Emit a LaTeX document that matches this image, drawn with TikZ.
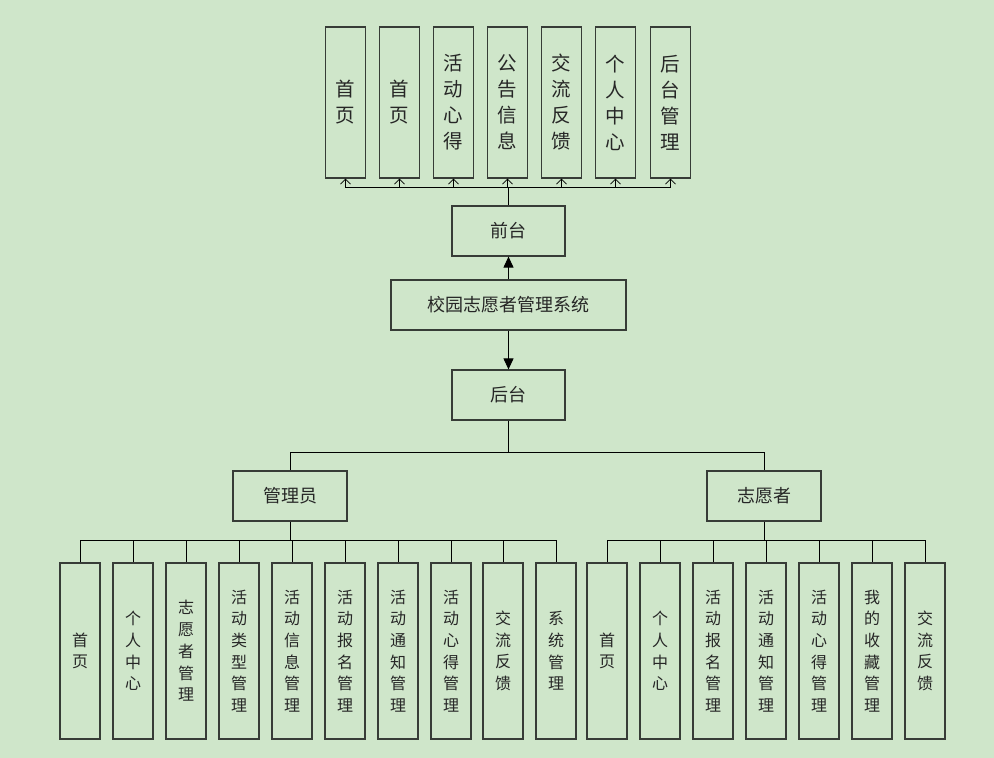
\documentclass[tikz,border=0pt]{standalone}
\usepackage{fontspec}
\newfontfamily\cjk{Noto Sans CJK SC}
\usetikzlibrary{arrows.meta}
\definecolor{bgc}{RGB}{207,230,202}
\definecolor{bdc}{RGB}{55,60,55}
\tikzset{
  x=1pt, y=-1pt,
  box/.style={draw=bdc, line width=1.2pt, inner sep=0pt, align=center, text=black!85},
  topbox/.style={box, minimum width=40pt, minimum height=151pt, font=\cjk\fontsize{19.5}{26}\selectfont},
  botbox/.style={box, minimum width=40pt, minimum height=176pt, font=\cjk\fontsize{16}{21.7}\selectfont},
  midbox/.style={box, minimum width=113pt, minimum height=50pt, font=\cjk\fontsize{18}{22}\selectfont},
  conn/.style={draw=black, line width=1pt},
  openarr/.style={conn, -{Straight Barb[length=5pt,width=10pt,line width=0.8pt]}},
  filarr/.style={conn, -{Triangle[length=11pt,width=10pt]}}
}
\begin{document}
\begin{tikzpicture}
\fill[bgc] (0,0) rectangle (994,758);
\useasboundingbox (0,0) rectangle (994,758);

% top row
\node[topbox] (t1) at (345.5,102.5) {首\\页};
\node[topbox] (t2) at (399.5,102.5) {首\\页};
\node[topbox] (t3) at (453.5,102.5) {活\\动\\心\\得};
\node[topbox] (t4) at (507.5,102.5) {公\\告\\信\\息};
\node[topbox] (t5) at (561.5,102.5) {交\\流\\反\\馈};
\node[topbox] (t6) at (615.5,102.5) {个\\人\\中\\心};
\node[topbox] (t7) at (670.5,102.5) {后\\台\\管\\理};

\node[midbox] (qt) at (508.5,231) {前台};
\node[midbox, minimum width=235pt] (sys) at (508.5,305) {校园志愿者管理系统};
\node[midbox] (ht) at (508.5,395) {后台};
\node[midbox, minimum width=114pt] (adm) at (290,496) {管理员};
\node[midbox, minimum width=114pt] (vol) at (764,496) {志愿者};

% bottom left
\node[botbox] (a1) at (80,651) {首\\页};
\node[botbox] (a2) at (133,651) {个\\人\\中\\心};
\node[botbox] (a3) at (186,651) {志\\愿\\者\\管\\理};
\node[botbox] (a4) at (239,651) {活\\动\\类\\型\\管\\理};
\node[botbox] (a5) at (292,651) {活\\动\\信\\息\\管\\理};
\node[botbox] (a6) at (345,651) {活\\动\\报\\名\\管\\理};
\node[botbox] (a7) at (398,651) {活\\动\\通\\知\\管\\理};
\node[botbox] (a8) at (451,651) {活\\动\\心\\得\\管\\理};
\node[botbox] (a9) at (503,651) {交\\流\\反\\馈};
\node[botbox] (a10) at (556,651) {系\\统\\管\\理};

% bottom right
\node[botbox] (v1) at (607,651) {首\\页};
\node[botbox] (v2) at (660,651) {个\\人\\中\\心};
\node[botbox] (v3) at (713,651) {活\\动\\报\\名\\管\\理};
\node[botbox] (v4) at (766,651) {活\\动\\通\\知\\管\\理};
\node[botbox] (v5) at (819,651) {活\\动\\心\\得\\管\\理};
\node[botbox] (v6) at (872,651) {我\\的\\收\\藏\\管\\理};
\node[botbox] (v7) at (925,651) {交\\流\\反\\馈};

% connectors top
\coordinate (busT) at (508.5,187);
\draw[conn] (qt.north) -- (busT);
\foreach \n in {t1,t2,t3,t4,t5,t6,t7}{
  \draw[openarr] (busT) -| (\n.south);
}
\draw[filarr] (sys.north) -- (qt.south);
\draw[filarr] (sys.south) -- (ht.north);

% middle
\coordinate (busM) at (508.5,452);
\draw[conn] (ht.south) -- (busM);
\draw[conn] (busM) -| (adm.north);
\draw[conn] (busM) -| (vol.north);

% bottom buses
\coordinate (busA) at (290,540);
\draw[conn] (adm.south) -- (busA);
\foreach \n in {a1,a2,a3,a4,a5,a6,a7,a8,a9,a10}{
  \draw[conn] (busA) -| (\n.north);
}
\coordinate (busV) at (764,540);
\draw[conn] (vol.south) -- (busV);
\foreach \n in {v1,v2,v3,v4,v5,v6,v7}{
  \draw[conn] (busV) -| (\n.north);
}
\end{tikzpicture}
\end{document}
